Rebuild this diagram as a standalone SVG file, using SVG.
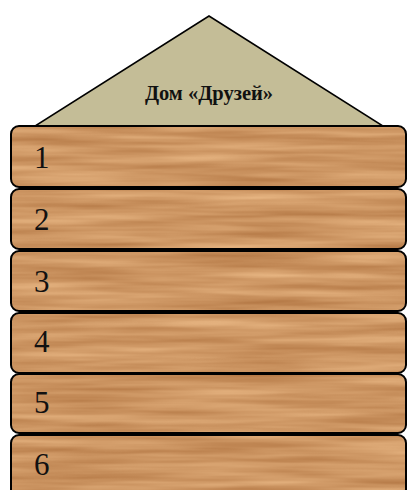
<svg xmlns="http://www.w3.org/2000/svg" width="407" height="490" viewBox="0 0 407 490">
<style>
.edge{fill:none;stroke:#000;stroke-width:2}
.num{font-family:"Liberation Serif","Times New Roman",serif;font-size:31px;fill:#111}
.title{font-family:"Liberation Serif","Times New Roman",serif;font-size:20.5px;font-weight:bold;fill:#111;text-anchor:middle}
</style>
<defs>
<filter id="wood" x="0" y="0" width="1" height="1" color-interpolation-filters="sRGB">
<feTurbulence type="fractalNoise" baseFrequency="0.006 0.11" numOctaves="3" seed="7" result="n"/>
<feColorMatrix in="n" type="matrix" values="0.25 0 0 0 0.68  0.3 0 0 0 0.44  0.3 0 0 0 0.24  0 0 0 0 1" result="c"/>
<feComposite in="c" in2="SourceGraphic" operator="in"/>
</filter>
</defs>
<rect width="407" height="490" fill="#fff"/>
<g id="roof">
<polygon points="209,16 35,126 383,126" fill="#C4BD97" stroke="#000" stroke-width="1.5"/>
<text class="title" x="209" y="100">Дом «Друзей»</text>
</g>
<g id="log1">
<rect x="11" y="126" width="395" height="61" rx="8" fill="#CD9664" filter="url(#wood)"/>
<rect class="edge" x="11" y="126" width="395" height="61" rx="8"/>
<text class="num" x="34" y="168">1</text>
</g>
<g id="log2">
<rect x="11" y="189" width="395" height="60" rx="8" fill="#CD9664" filter="url(#wood)"/>
<rect class="edge" x="11" y="189" width="395" height="60" rx="8"/>
<text class="num" x="34" y="230">2</text>
</g>
<g id="log3">
<rect x="11" y="251" width="395" height="60" rx="8" fill="#CD9664" filter="url(#wood)"/>
<rect class="edge" x="11" y="251" width="395" height="60" rx="8"/>
<text class="num" x="34" y="292">3</text>
</g>
<g id="log4">
<rect x="11" y="313" width="395" height="60" rx="8" fill="#CD9664" filter="url(#wood)"/>
<rect class="edge" x="11" y="313" width="395" height="60" rx="8"/>
<text class="num" x="34" y="352">4</text>
</g>
<g id="log5">
<rect x="11" y="374" width="395" height="59" rx="8" fill="#CD9664" filter="url(#wood)"/>
<rect class="edge" x="11" y="374" width="395" height="59" rx="8"/>
<text class="num" x="34" y="413">5</text>
</g>
<g id="log6">
<rect x="11" y="435" width="395" height="62" rx="8" fill="#CD9664" filter="url(#wood)"/>
<rect class="edge" x="11" y="435" width="395" height="62" rx="8"/>
<text class="num" x="34" y="475">6</text>
</g>
</svg>
